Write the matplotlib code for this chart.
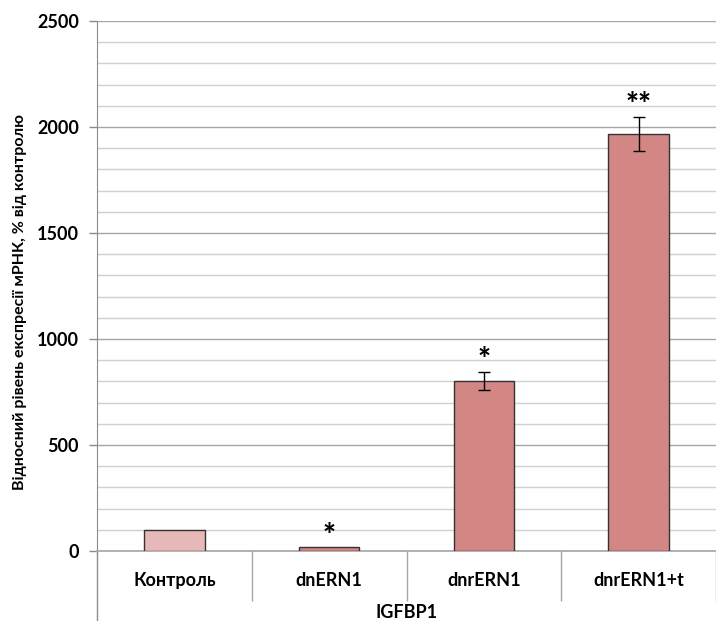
import matplotlib

matplotlib.use("Agg")
import matplotlib.pyplot as plt
from matplotlib.lines import Line2D

categories = ["Контроль", "dnERN1", "dnrERN1", "dnrERN1+t"]
values = [100, 20, 800, 1965]
errors = [None, None, 42, 80]
marks = ["", "*", "*", "**"]
mark_y = [None, 70, 900, 2105]
group_label = "IGFBP1"
y_label = "Відносний рівень експресії мРНК, % від контролю"

plt.rcParams["font.family"] = ["Lato", "DejaVu Sans"]

fig = plt.figure(figsize=(7.16, 6.21), dpi=100)
ax = fig.add_axes([97 / 716, 70 / 621, 619 / 716, 530 / 621])

colors = ["#E6B9B8"] + ["#D38784"] * 3
x = list(range(len(categories)))
ax.bar(x, values, width=0.39, color=colors, edgecolor="#333333", linewidth=1.0, zorder=3)
for i, e in enumerate(errors):
    if e is not None:
        ax.errorbar(i, values[i], yerr=e, color="black", capsize=4, capthick=1,
                    elinewidth=1, zorder=4)
for i, m in enumerate(marks):
    if m:
        ax.text(i, mark_y[i], m, ha="center", va="center", fontsize=22,
                fontweight="black", zorder=5)

ax.set_xlim(-0.5, 3.5)
ax.set_ylim(0, 2500)
ax.set_yticks(range(0, 2501, 500))
ax.set_yticks(range(0, 2501, 100), minor=True)
ax.grid(True, which="major", axis="y", color="#A6A6A6", linewidth=1.0, zorder=0)
ax.grid(True, which="minor", axis="y", color="#D0D0D0", linewidth=1.0, zorder=0)
ax.tick_params(axis="y", which="major", length=6, width=1, color="#8C8C8C",
               labelsize=13, pad=7)
ax.tick_params(axis="y", which="minor", length=0)
for lab in ax.get_yticklabels():
    lab.set_fontweight("bold")

ax.set_xticks(x)
ax.set_xticklabels(categories, fontsize=13, fontweight="bold")
ax.set_xticks([0.5, 1.5, 2.5, 3.5], minor=True)
ax.tick_params(axis="x", which="major", length=0, pad=15)
ax.tick_params(axis="x", which="minor", length=36, width=1, color="#A6A6A6")

for side in ["top", "right"]:
    ax.spines[side].set_visible(False)
ax.spines["left"].set_color("#8C8C8C")
ax.spines["bottom"].set_color("#A6A6A6")
ax.spines["bottom"].set_linewidth(1.2)

# extend the value axis down past the category labels
ax.add_line(Line2D([0, 0], [0, -75 / 530], transform=ax.transAxes, color="#8C8C8C",
                   linewidth=1, clip_on=False))

ax.text(0.5, -61 / 530, group_label, transform=ax.transAxes, ha="center", va="center",
        fontsize=13, fontweight="bold")
ax.set_ylabel(y_label, fontsize=11.5, fontweight="bold")
ax.yaxis.set_label_coords(-70 / 619, 0.47)

fig.savefig("out.png", dpi=100)
